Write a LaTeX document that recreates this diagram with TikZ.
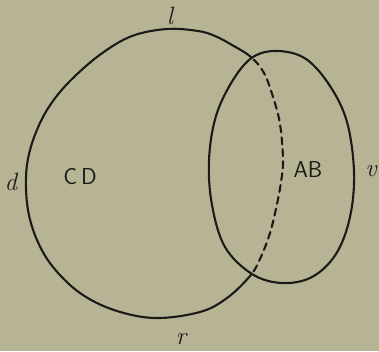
\documentclass[tikz,border=0pt]{standalone}
\usepackage{fontspec}
\definecolor{paper}{RGB}{183,180,150}
\definecolor{ink}{RGB}{28,26,22}
\tikzset{
  outline/.style={draw=ink, line width=2.1pt, line join=round, line cap=round},
  hidden/.style={outline, dash pattern=on 7pt off 5pt},
  region/.style={text=ink, font=\sffamily\fontsize{23}{23}\selectfont, inner sep=0pt},
  side/.style={text=ink, font=\itshape\fontsize{25}{25}\selectfont, inner sep=0pt}
}
\newcommand{\smallpath}{plot[smooth cycle, tension=0.6] coordinates {(209,160) (216,116) (233,80) (253,57) (278,51) (306,59) (330,86) (347,122) (354,172) (350,217) (336,254) (312,277) (282,283) (252,274) (225,247) (212,205)}}
\newcommand{\bigpath}{plot[smooth cycle, tension=0.6] coordinates {(26,177) (30,150) (40,123) (53,101) (72,79) (101,54) (132,36) (167,29) (198,31) (215,36) (232,45) (251,57) (264,73) (273,97) (280,124) (283,160) (281,182) (277,204) (270,233) (260,259) (250,276) (227,298) (200,312) (155,318) (114,310) (80,293) (53,267) (37,240) (28,210)}}
\begin{document}
\begin{tikzpicture}[x=1pt,y=-1pt]
  \fill[paper] (0,0) rectangle (379,351);
  \useasboundingbox (0,0) rectangle (379,351);
  % big region, solid outside the small one
  \begin{scope}[even odd rule]
    \clip (-10,-10) rectangle (389,361) \smallpath;
    \draw[outline] \bigpath;
  \end{scope}
  % big region, dashed inside the small one
  \begin{scope}
    \clip \smallpath;
    \draw[hidden] \bigpath;
  \end{scope}
  \draw[outline] \smallpath;
  % labels
  \node[side] (l) at (170,16) {l};
  \node[side] (d) at (11,182) {d};
  \node[side] (r) at (181,339) {r};
  \node[side] (v) at (371,171) {v};
  \node[region] (cd) at (80,177) {C\,D};
  \node[region] (ab) at (308,170) {AB};
\end{tikzpicture}
\end{document}
